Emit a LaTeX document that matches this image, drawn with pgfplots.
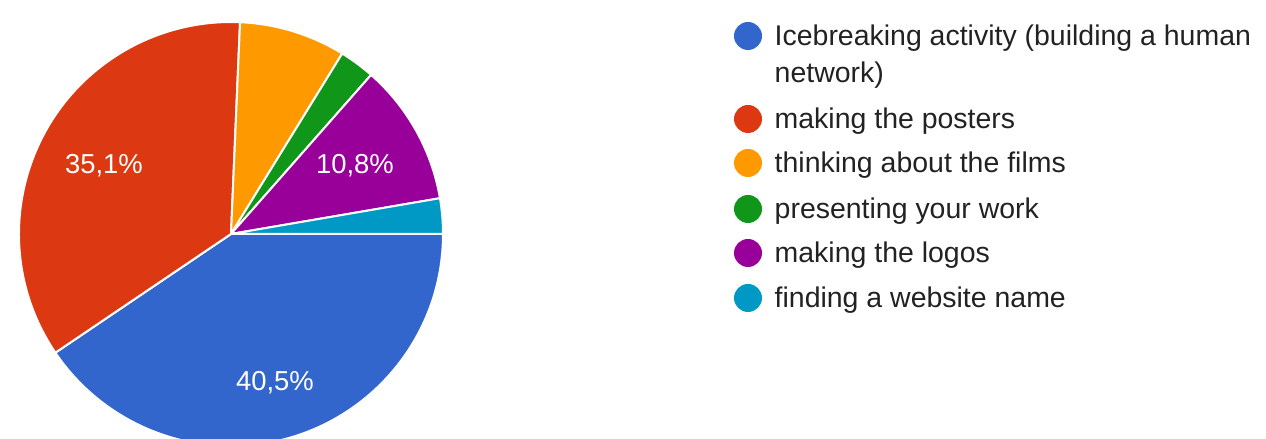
\documentclass[border=0pt]{standalone}
\usepackage{pgfplots}
\usepackage{pgfplotstable}
\pgfplotsset{compat=1.18}
\usepackage{fontspec}
\setmainfont{Liberation Sans}
\definecolor{gblue}{HTML}{3366CC}
\definecolor{gred}{HTML}{DC3912}
\definecolor{gorange}{HTML}{FF9900}
\definecolor{ggreen}{HTML}{109618}
\definecolor{gpurple}{HTML}{990099}
\definecolor{gcyan}{HTML}{0099C6}
\definecolor{legtext}{HTML}{222222}
% share of answers (percent), in drawing order (clockwise from 3 o'clock)
\pgfplotstableread{
value color
40.54 gblue
35.14 gred
8.11 gorange
2.70 ggreen
10.81 gpurple
2.70 gcyan
}\piedata
\begin{document}
\begin{tikzpicture}
\begin{axis}[hide axis, scale only axis, width=126.6mm, height=43.9mm,
  xmin=0, xmax=1266, ymin=-439, ymax=0]
\path (axis cs:0,0) rectangle (axis cs:1266,-439);
\gdef\startang{0}
\pgfplotstablegetrowsof{\piedata}
\pgfmathtruncatemacro\nrows{\pgfplotsretval-1}
\pgfplotsforeachungrouped \i in {0,...,\nrows}{%
  \pgfplotstablegetelem{\i}{value}\of\piedata \let\val\pgfplotsretval
  \pgfplotstablegetelem{\i}{color}\of\piedata \let\col\pgfplotsretval
  \pgfmathsetmacro\endang{\startang-3.6*\val}%
  \edef\temp{\noexpand\fill[fill=\col, draw=white, line width=0.2mm, line join=round] (axis cs:231,-234) -- ++(\startang:21.2mm) arc[start angle=\startang, end angle=\endang, radius=21.2mm] -- cycle;}%
  \temp
  \global\let\startang\endang
}
\tikzset{pct/.style={text=white, font=\fontsize{7.8}{9}\selectfont, inner sep=0pt}}
\node[pct] at (axis cs:275,-383) {40,5\%};
\node[pct] at (axis cs:104,-166) {35,1\%};
\node[pct] at (axis cs:355,-166) {10,8\%};
\tikzset{leg/.style={text=legtext, font=\fontsize{8.1}{9}\selectfont, inner sep=0pt, anchor=base west}}
\fill[gblue]   (axis cs:748,-36)  circle[radius=1.4mm];
\fill[gred]    (axis cs:748,-119) circle[radius=1.4mm];
\fill[gorange] (axis cs:748,-163) circle[radius=1.4mm];
\fill[ggreen]  (axis cs:748,-209) circle[radius=1.4mm];
\fill[gpurple] (axis cs:748,-253) circle[radius=1.4mm];
\fill[gcyan]   (axis cs:748,-298) circle[radius=1.4mm];
\node[leg] at (axis cs:774,-46) {Icebreaking activity (building a human};
\node[leg] at (axis cs:774,-82.5) {network)};
\node[leg] at (axis cs:774,-129) {making the posters};
\node[leg] at (axis cs:774,-173) {thinking about the films};
\node[leg] at (axis cs:774,-219) {presenting your work};
\node[leg] at (axis cs:774,-263) {making the logos};
\node[leg] at (axis cs:774,-308) {finding a website name};
\end{axis}
\end{tikzpicture}
\end{document}
